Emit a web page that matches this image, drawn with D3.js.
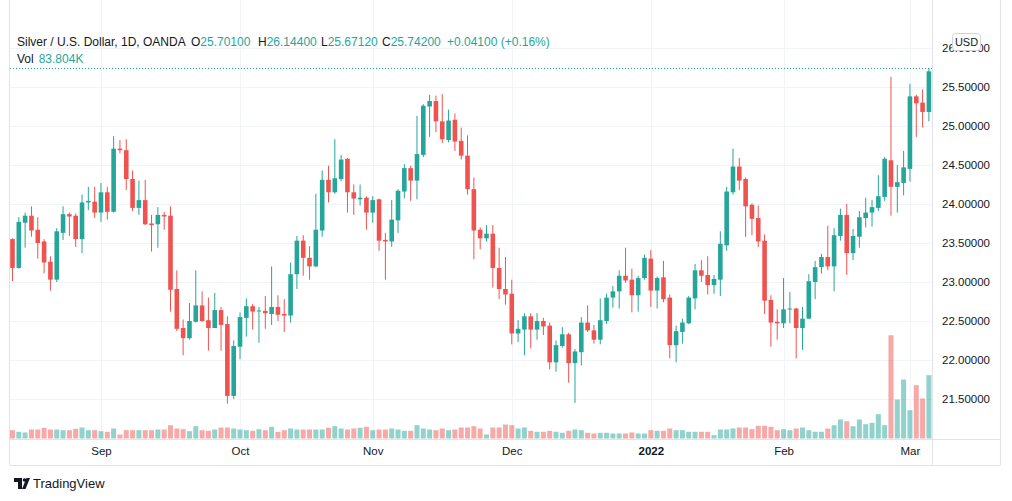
<!DOCTYPE html>
<html><head><meta charset="utf-8">
<script src="https://cdn.jsdelivr.net/npm/d3@7"></script>
<style>
html,body{margin:0;padding:0;background:#fff;}
svg{display:block;font-family:"Liberation Sans",Arial,sans-serif;}
</style>
</head><body>
<svg id="chart" width="1012" height="501"></svg>
<script>
// ---- data ----
const opens = [
23.55,23.18,23.76,23.85,23.67,23.52,23.26,23.03,23.63,23.87,
23.85,23.55,24.02,24.03,23.89,24.15,23.90,24.71,24.69,24.32,
23.95,24.05,23.75,23.74,23.86,23.85,22.91,22.41,22.28,22.49,
22.70,22.51,22.41,22.64,22.46,21.54,22.17,22.54,22.69,22.63,
22.63,22.59,22.68,22.59,22.57,23.10,23.53,23.31,23.20,23.66,
24.31,24.15,24.32,24.58,24.15,24.06,24.08,23.89,24.06,23.54,
23.52,23.79,24.16,24.46,24.30,24.63,25.25,25.32,25.06,24.82,
25.08,24.81,24.62,24.19,23.67,23.56,23.62,23.18,22.91,22.85,
22.34,22.39,22.56,22.39,22.50,22.44,21.97,22.18,22.33,21.96,
22.10,22.48,22.38,22.26,22.50,22.80,22.88,23.08,23.03,22.83,
23.05,23.30,22.89,23.06,22.80,22.19,22.36,22.47,22.79,23.15,
23.09,22.96,23.03,23.47,24.15,24.48,24.32,23.99,23.82,23.53,
22.77,22.49,22.47,22.65,22.66,22.41,22.53,23.00,23.19,23.32,
23.20,23.59,23.86,23.37,23.58,23.82,23.89,23.95,24.09,24.56,
24.22,24.27,24.45,25.38,25.30,25.18];
const highs = [
23.56,23.83,23.89,23.97,23.83,23.55,23.33,23.69,23.97,23.89,
23.88,24.12,24.22,24.22,24.27,24.22,24.87,24.82,24.83,24.43,
24.30,24.31,23.86,23.96,23.90,23.97,23.15,22.52,22.73,23.15,
22.88,22.80,22.86,22.68,22.56,22.25,22.61,22.79,22.72,22.68,
22.82,23.20,22.83,22.78,23.25,23.59,23.60,23.46,24.13,24.43,
24.49,24.83,24.63,24.59,24.25,24.25,24.10,24.10,24.07,23.63,
24.05,24.19,24.51,24.49,25.13,25.28,25.40,25.39,25.41,25.21,
25.16,24.98,24.88,24.34,23.70,23.73,23.73,23.44,23.32,23.03,
22.51,22.60,22.60,22.60,22.54,22.48,22.25,22.42,22.35,22.14,
22.55,22.70,22.45,22.79,22.85,22.95,23.15,23.44,23.17,23.08,
23.35,23.41,23.07,23.27,22.84,22.44,22.53,22.82,23.23,23.28,
23.33,23.09,23.65,24.22,24.71,24.59,24.34,24.01,23.98,23.61,
22.83,22.65,23.05,22.87,22.67,22.68,23.10,23.27,23.36,23.72,
23.69,23.94,24.00,23.68,23.91,24.08,24.05,24.37,24.60,25.63,
24.50,24.68,25.54,25.40,25.47,25.74];
const lows = [
23.01,23.17,23.44,23.58,23.30,23.11,22.89,23.00,23.54,23.59,
23.45,23.37,23.92,23.82,23.77,23.80,23.89,24.65,24.18,23.91,
23.86,23.73,23.39,23.44,23.67,22.62,22.37,22.06,22.26,22.48,
22.49,22.12,22.41,22.12,21.44,21.50,22.01,22.30,22.39,22.22,
22.40,22.45,22.50,22.36,22.48,22.91,23.08,23.03,23.19,23.58,
24.02,24.13,24.29,23.89,23.86,23.98,23.67,23.76,23.40,23.03,
23.45,23.63,24.07,24.04,24.06,24.60,24.86,24.92,24.78,24.79,
24.68,24.57,24.12,23.29,23.42,23.52,22.93,22.78,22.71,22.20,
22.23,22.06,22.15,22.26,22.32,21.88,21.85,22.16,21.71,21.45,
21.93,22.36,22.21,22.20,22.46,22.67,22.66,22.99,22.61,22.62,
23.03,22.68,22.66,22.74,22.02,21.97,22.21,22.46,22.65,23.00,
22.84,22.85,22.82,23.40,24.12,24.18,23.58,23.60,23.45,22.59,
22.17,22.26,22.41,22.47,22.02,22.13,22.53,22.78,23.11,23.15,
22.88,23.53,23.09,23.28,23.44,23.70,23.71,23.91,24.04,23.85,
23.89,24.11,24.29,24.86,24.98,25.06];
const closes = [
23.18,23.77,23.85,23.66,23.50,23.25,23.03,23.65,23.87,23.84,
23.55,24.02,24.04,23.89,24.15,23.90,24.71,24.69,24.32,23.95,
24.05,23.74,23.73,23.86,23.84,22.90,22.40,22.28,22.50,22.70,
22.50,22.41,22.64,22.45,21.54,22.18,22.55,22.69,22.62,22.635,
22.60,22.68,22.58,22.57,23.10,23.53,23.31,23.20,23.67,24.31,
24.15,24.33,24.57,24.15,24.07,24.08,23.89,24.05,23.53,23.52,
23.80,24.17,24.46,24.30,24.64,25.26,25.32,25.06,24.83,25.07,
24.80,24.62,24.19,23.66,23.56,23.62,23.18,22.91,22.84,22.34,
22.40,22.56,22.39,22.50,22.43,21.97,22.19,22.33,21.96,22.11,
22.48,22.38,22.26,22.51,22.80,22.88,23.08,23.02,22.83,23.05,
23.31,22.89,23.05,22.78,22.19,22.37,22.48,22.80,23.15,23.08,
22.96,23.04,23.49,24.16,24.48,24.30,23.97,23.81,23.52,22.76,
22.48,22.47,22.65,22.66,22.41,22.53,23.01,23.19,23.32,23.20,
23.60,23.86,23.37,23.59,23.83,23.89,23.96,24.10,24.58,24.22,
24.28,24.47,25.38,25.29,25.18,25.701];
const volumes = [ // thousands
16.6,13.4,12,18,18,21.4,18,18,16.6,16.6,19.4,22,16.6,16.6,14.6,13.4,20,8,16.6,16.6,16.6,16.6,16.6,18,18,26.6,20,18.6,14.6,24.6,
16.6,15.4,18,22,22,20,18,16.6,15.4,18.6,16.6,23.4,13.4,16.6,20,18,18,18,18,18,21.4,24.6,20,18,20,21.4,23.4,16.6,18,18,
20,18,15.4,15.4,26.6,20,18,16.6,20,16.6,18,22,22,24.6,20,8,22,22,28,26.6,20,22,15.4,13.4,13.4,15.4,13.4,11.4,15.4,18,
16.6,11.4,10,11.4,11.4,10,10,10,12,10,10,16.6,15.4,15.4,20,16.6,16.6,13.4,13.4,13.4,13.4,6.6,18,18,20,22,22,18.6,25.4,25.4,
23.4,16.6,18.6,16.6,20,22,16.6,13.4,13.4,20,26.6,38,34.6,24.6,38,28.6,31.4,48.6,26.6,206.6,78,118,56.6,106.6,80,126.6];
const monthTickIndex = [14, 36, 57, 79, 101, 122, 142];
const monthLabels = ["Sep", "Oct", "Nov", "Dec", "2022", "Feb", "Mar"];
const priceTicks = [21.5, 22, 22.5, 23, 23.5, 24, 24.5, 25, 25.5, 26];
const headerTitle = "Silver / U.S. Dollar, 1D, OANDA";
const headerLabels = ["O", "H", "L", "C"];
const headerValues = ["25.70100", "26.14400", "25.67120", "25.74200"];
const headerChange = "+0.04100 (+0.16%)";
const lastPrice = 25.742;
const volLabel = "83.804K";

// ---- layout ----
const UP = "#26a69a", DOWN = "#ef5350";
const UPV = "rgba(38,166,154,0.5)", DOWNV = "rgba(239,83,80,0.5)";
const TEXT = "#131722", GRID = "#f0f3fa", BORDER = "#e0e3eb";
const paneL = 10, paneR = 932, paneB = 439, axisB = 465, outerR = 1000;

const svg = d3.select("#chart");
const N = opens.length;
const x = d3.scaleLinear().domain([0, N - 1]).range([12.5, 928.9]);
const y = d3.scaleLinear().domain([21.5, 26]).range([399, 48]);
const yv = d3.scaleLinear().domain([0, 200]).range([438.5, 338.5]);

svg.append("defs").append("clipPath").attr("id", "pane")
  .append("rect").attr("x", paneL).attr("y", 0).attr("width", paneR - paneL).attr("height", paneB);

// grid
const grid = svg.append("g");
grid.selectAll("line.h").data(priceTicks).join("line")
  .attr("x1", paneL).attr("x2", paneR)
  .attr("y1", d => Math.round(y(d)) + 0.5).attr("y2", d => Math.round(y(d)) + 0.5)
  .attr("stroke", GRID).attr("stroke-width", 1);
grid.selectAll("line.v").data(monthTickIndex).join("line")
  .attr("x1", d => Math.round(x(d)) + 0.5).attr("x2", d => Math.round(x(d)) + 0.5)
  .attr("y1", 0).attr("y2", paneB)
  .attr("stroke", GRID).attr("stroke-width", 1);

const plot = svg.append("g").attr("clip-path", "url(#pane)");
const idx = d3.range(N);
const isUp = i => closes[i] >= opens[i];

// volume
plot.append("g").selectAll("rect").data(idx).join("rect")
  .attr("x", i => x(i) - 2.5).attr("width", 5)
  .attr("y", i => yv(volumes[i])).attr("height", i => yv(0) - yv(volumes[i]))
  .attr("fill", i => isUp(i) ? UPV : DOWNV);

// candles
const c = plot.append("g");
c.selectAll("line").data(idx).join("line")
  .attr("x1", i => x(i)).attr("x2", i => x(i))
  .attr("y1", i => y(highs[i])).attr("y2", i => y(lows[i]))
  .attr("stroke", i => isUp(i) ? UP : DOWN).attr("stroke-width", 1);
c.selectAll("rect").data(idx).join("rect")
  .attr("x", i => x(i) - 2.3).attr("width", 4.6)
  .attr("y", i => y(Math.max(opens[i], closes[i])))
  .attr("height", i => Math.max(1, Math.abs(y(opens[i]) - y(closes[i]))))
  .attr("fill", i => isUp(i) ? UP : DOWN);

// last price dotted line
svg.append("line")
  .attr("x1", paneL).attr("x2", paneR)
  .attr("y1", Math.round(y(lastPrice)) + 0.5).attr("y2", Math.round(y(lastPrice)) + 0.5)
  .attr("stroke", UP).attr("stroke-width", 1).attr("stroke-dasharray", "1,2");

// borders
const b = svg.append("g").attr("stroke", BORDER).attr("stroke-width", 1).attr("fill", "none");
b.append("line").attr("x1", paneL - 0.5).attr("x2", paneL - 0.5).attr("y1", 0).attr("y2", axisB);
b.append("line").attr("x1", paneR + 0.5).attr("x2", paneR + 0.5).attr("y1", 0).attr("y2", axisB);
b.append("line").attr("x1", outerR + 0.5).attr("x2", outerR + 0.5).attr("y1", 0).attr("y2", axisB);
b.append("line").attr("x1", paneL - 0.5).attr("x2", outerR + 0.5).attr("y1", paneB + 0.5).attr("y2", paneB + 0.5);
b.append("line").attr("x1", paneL - 0.5).attr("x2", outerR + 0.5).attr("y1", axisB + 0.5).attr("y2", axisB + 0.5);

// price axis
const ya = svg.append("g").attr("transform", `translate(${paneR},0)`)
  .call(d3.axisRight(y).tickValues(priceTicks).tickSize(0).tickPadding(10).tickFormat(d3.format(".5f")));
ya.select(".domain").remove();
ya.selectAll("text").attr("fill", TEXT).style("font-size", "11.5px")
  .style("font-family", '"Liberation Sans", Arial, sans-serif');

// time axis
const xa = svg.append("g").attr("transform", `translate(0,${paneB})`)
  .call(d3.axisBottom(x).tickValues(monthTickIndex).tickSize(0).tickPadding(8)
    .tickFormat((d, i) => monthLabels[i]));
xa.select(".domain").remove();
xa.selectAll("text").attr("fill", TEXT).style("font-size", "11.5px")
  .style("font-family", '"Liberation Sans", Arial, sans-serif')
  .style("font-weight", (d, i) => monthLabels[i] === "2022" ? "bold" : "normal");

// USD badge
const badge = svg.append("g");
badge.append("rect").attr("x", 952.5).attr("y", 33.5).attr("width", 28).attr("height", 17).attr("rx", 3)
  .attr("fill", "#fff").attr("stroke", "#d1d4dc");
badge.append("text").attr("x", 966.5).attr("y", 46).attr("text-anchor", "middle")
  .attr("fill", TEXT).style("font-size", "11px").text("USD");

// header legend
const hdr = svg.append("g").style("font-size", "12px");
hdr.append("text").attr("x", 17).attr("y", 46).attr("fill", TEXT).text(headerTitle);
const hx = [191, 258, 321, 382];
headerLabels.forEach((l, i) => {
  const t = hdr.append("text").attr("x", hx[i]).attr("y", 46);
  t.append("tspan").attr("fill", TEXT).text(l);
  t.append("tspan").attr("fill", UP).text(headerValues[i]);
});
hdr.append("text").attr("x", 447).attr("y", 46).attr("fill", UP).text(headerChange);
const vt = hdr.append("text").attr("x", 17).attr("y", 63);
vt.append("tspan").attr("fill", TEXT).text("Vol");
vt.append("tspan").attr("fill", UP).attr("dx", 5).text(volLabel);

// TradingView logo
const logo = svg.append("g").attr("fill", TEXT);
logo.append("path").attr("d", "M14,478 h8 v11 h-4 v-7 h-4 z");
logo.append("circle").attr("cx", 24.5).attr("cy", 480).attr("r", 1.8);
logo.append("path").attr("d", "M26.5,478 h3.5 l-4.5,11 h-3.5 z");
logo.append("text").attr("x", 33).attr("y", 488).style("font-size", "13px").text("TradingView");
</script>
</body></html>
